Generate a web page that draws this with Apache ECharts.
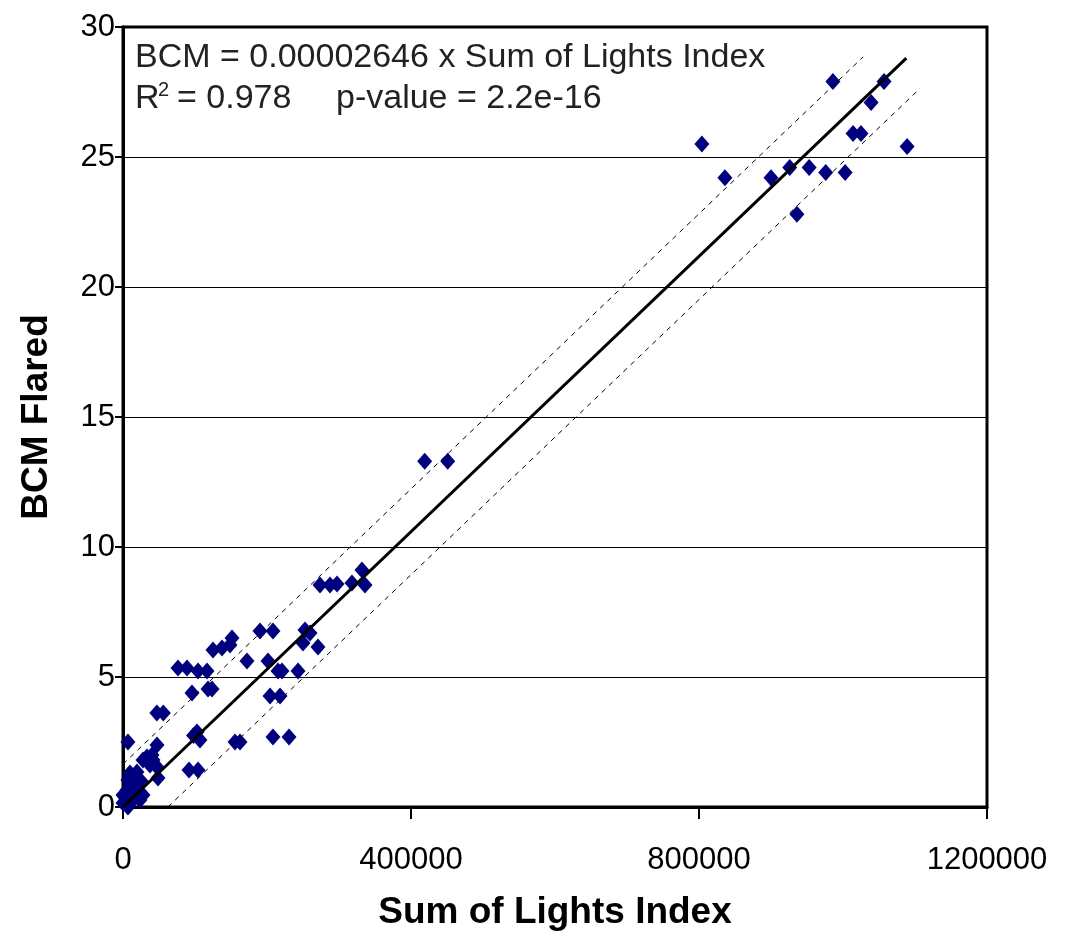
<!DOCTYPE html>
<html>
<head>
<meta charset="utf-8">
<script src="https://cdn.jsdelivr.net/npm/echarts@6/dist/echarts.min.js"></script>
<style>
  html, body { margin: 0; padding: 0; background: #fff; }
  #chart { width: 1066px; height: 931px; }
</style>
</head>
<body>
<div id="chart"></div>
<script>
// 散点数据：[Sum of Lights Index, BCM Flared]
const points = [
  [986000, 27.9], [1057000, 27.9], [1039000, 27.1], [1014000, 25.9], [1025000, 25.9],
  [1089000, 25.4], [804000, 25.5], [836000, 24.2], [900000, 24.2], [926000, 24.6],
  [953000, 24.6], [976000, 24.4], [1003000, 24.4], [936000, 22.8],
  [419000, 13.3], [451000, 13.3],
  [273600, 8.54], [287500, 8.54], [297200, 8.58], [318000, 8.62], [331900, 9.12], [336100, 8.54],
  [190300, 6.77], [208300, 6.77], [151400, 6.5], [148600, 6.23], [137500, 6.12], [125000, 6.04],
  [252800, 6.81], [259700, 6.69], [250000, 6.31], [270800, 6.15], [172200, 5.62], [201400, 5.62],
  [215300, 5.23], [220800, 5.23], [243100, 5.23], [76400, 5.35], [88900, 5.35], [104200, 5.23],
  [116700, 5.23], [95800, 4.38], [118100, 4.54], [123600, 4.54], [204200, 4.27], [218100, 4.27],
  [47000, 3.62], [56000, 3.62],
  [102800, 2.88], [106900, 2.58], [98000, 2.75], [155600, 2.5], [162500, 2.5], [208300, 2.69],
  [230600, 2.69], [6900, 2.5], [91700, 1.42], [104200, 1.42],
  [47200, 2.38], [40300, 2.0], [33300, 1.92], [27800, 1.81], [41700, 1.81], [37500, 1.62],
  [47200, 1.54], [48600, 1.12],
  [9700, 1.31], [19400, 1.35], [6900, 1.04], [16700, 0.92], [26400, 0.96], [5600, 0.65],
  [19400, 0.58], [27800, 0.46], [2800, 0.38], [13900, 0.27], [0, 0.15], [6900, 0.0],
  [23600, 0.27], [0, 0.46]
]

// 回归线及上下虚线（端点读自原图）
const fitLine = [[0, 0], [1088000, 28.8]]
const upperBand = [[0, 1.65], [1028000, 28.85]]
const lowerBand = [[62400, 0], [1107000, 27.64]]

const xTicks = [0, 400000, 800000, 1200000]
const yTicks = [0, 5, 10, 15, 20, 25, 30]

const font = '"Liberation Sans", Arial, sans-serif'

let myChart = echarts.init(document.getElementById('chart'))
myChart.setOption({
  animation: false,
  backgroundColor: '#fff',
  grid: {
    left: 123,
    right: 79,
    top: 27,
    bottom: 124,
    outerBoundsMode: 'none', // 不让标签挤压绘图区
    show: true,
    borderColor: '#000',
    borderWidth: 3
  },
  xAxis: {
    type: 'value',
    min: xTicks[0],
    max: xTicks[xTicks.length - 1],
    interval: xTicks[1] - xTicks[0],
    name: 'Sum of Lights Index',
    nameLocation: 'middle',
    nameGap: 87,
    nameTextStyle: { fontFamily: font, fontSize: 37, fontWeight: 'bold', color: '#000' },
    axisLine: { lineStyle: { color: '#000', width: 3 } },
    axisTick: { show: true, inside: false, length: 12, lineStyle: { color: '#000', width: 2 } },
    axisLabel: {
      fontFamily: font, fontSize: 31, color: '#000', margin: 38,
      formatter: v => String(v)
    },
    splitLine: { show: false }
  },
  yAxis: {
    type: 'value',
    min: yTicks[0],
    max: yTicks[yTicks.length - 1],
    interval: yTicks[1] - yTicks[0],
    name: 'BCM Flared',
    nameLocation: 'middle',
    nameGap: 68,
    nameTextStyle: { fontFamily: font, fontSize: 37, fontWeight: 'bold', color: '#000' },
    axisLine: { lineStyle: { color: '#000', width: 3 } },
    axisTick: { show: true, inside: false, length: 8, lineStyle: { color: '#000', width: 2 } },
    axisLabel: { fontFamily: font, fontSize: 31, color: '#000', margin: 8 },
    splitLine: { show: true, lineStyle: { color: '#000', width: 1.2 } }
  },
  graphic: [
    {
      type: 'text', left: 135, top: 41,
      style: { text: 'BCM = 0.00002646 x Sum of Lights Index', font: '34px ' + font, fill: '#222' }
    },
    {
      type: 'text', left: 135, top: 82,
      style: { text: 'R', font: '34px ' + font, fill: '#222' }
    },
    {
      type: 'text', left: 158, top: 80,
      style: { text: '2', font: '20px ' + font, fill: '#222' }
    },
    {
      type: 'text', left: 177, top: 82,
      style: { text: '= 0.978', font: '34px ' + font, fill: '#222' }
    },
    {
      type: 'text', left: 336, top: 82,
      style: { text: 'p-value = 2.2e-16', font: '34px ' + font, fill: '#222' }
    }
  ],
  series: [
    {
      name: 'data',
      type: 'scatter',
      data: points,
      symbol: 'diamond',
      symbolSize: [15, 17],
      itemStyle: { color: '#00007f', opacity: 1 },
      z: 2
    },
    {
      name: 'fit',
      type: 'line',
      data: fitLine,
      showSymbol: false,
      symbol: 'none',
      lineStyle: { color: '#000', width: 3 },
      z: 3
    },
    {
      name: 'upper',
      type: 'line',
      data: upperBand,
      symbol: 'none',
      lineStyle: { color: '#000', width: 1, type: [5, 5] },
      z: 3
    },
    {
      name: 'lower',
      type: 'line',
      data: lowerBand,
      symbol: 'none',
      lineStyle: { color: '#000', width: 1, type: [5, 5] },
      z: 3
    }
  ]
})
</script>
</body>
</html>
